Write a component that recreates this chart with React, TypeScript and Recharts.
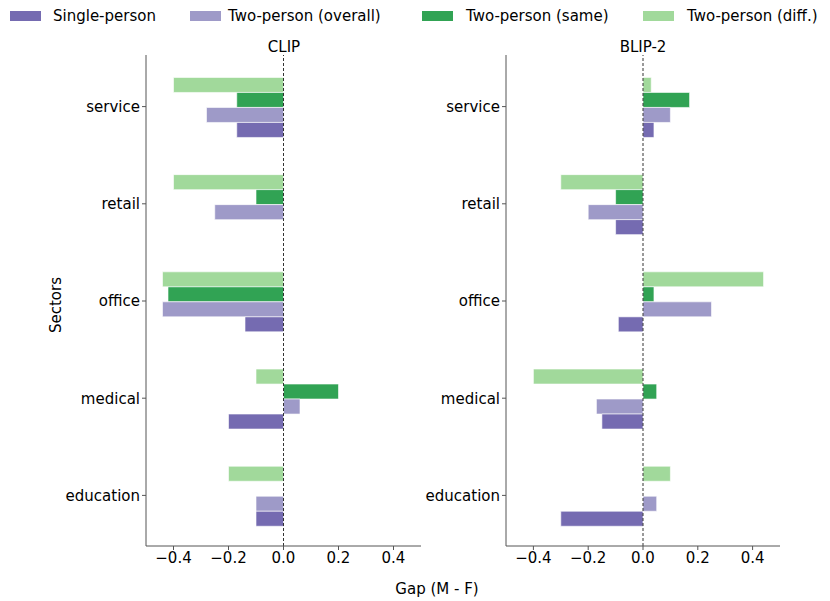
import { Bar, BarChart, ReferenceLine, XAxis, YAxis } from "recharts";

const sectors = ["service", "retail", "office", "medical", "education"];
const xTicks = [-0.4, -0.2, 0, 0.2, 0.4];

// CLIP gaps (M - F), one value per sector
const clipSingle = [-0.17, 0, -0.14, -0.2, -0.1];
const clipOverall = [-0.28, -0.25, -0.44, 0.06, -0.1];
const clipSame = [-0.17, -0.1, -0.42, 0.2, 0];
const clipDiff = [-0.4, -0.4, -0.44, -0.1, -0.2];

// BLIP-2 gaps (M - F)
const blipSingle = [0.04, -0.1, -0.09, -0.15, -0.3];
const blipOverall = [0.1, -0.2, 0.25, -0.17, 0.05];
const blipSame = [0.17, -0.1, 0.04, 0.05, 0];
const blipDiff = [0.03, -0.3, 0.44, -0.4, 0.1];

const COLORS = {
  single: "#756bb1",
  overall: "#9e9ac8",
  same: "#31a354",
  diff: "#a1d99b",
};

const legendItems = [
  { label: "Single-person", color: COLORS.single, swatchX: 10, textX: 53 },
  { label: "Two-person (overall)", color: COLORS.overall, swatchX: 190, textX: 228 },
  { label: "Two-person (same)", color: COLORS.same, swatchX: 422, textX: 466 },
  { label: "Two-person (diff.)", color: COLORS.diff, swatchX: 643, textX: 687 },
];

const FONT = "'DejaVu Sans', sans-serif";
const AXIS = "#555";

const toRows = (single: number[], overall: number[], same: number[], diff: number[]) =>
  sectors.map((sector, i) => ({
    sector,
    single: single[i],
    overall: overall[i],
    same: same[i],
    diff: diff[i],
  }));

const fmt = (v: number) => (v < 0 ? `\u2212${Math.abs(v).toFixed(1)}` : v.toFixed(1));

type PanelProps = {
  rows: ReturnType<typeof toRows>;
  left: number;
  width: number;
  yWidth: number;
  marginLeft: number;
  marginRight: number;
};

function Panel({ rows, left, width, yWidth, marginLeft, marginRight }: PanelProps) {
  const tick = { fill: "#000", fontSize: 15, fontFamily: FONT };
  const bar = { stroke: "#fff", strokeWidth: 0.6, isAnimationActive: false };
  return (
    <div style={{ position: "absolute", left, top: 0 }}>
      <BarChart
        width={width}
        height={601}
        data={rows}
        layout="vertical"
        barCategoryGap="20%"
        barGap={0}
        margin={{ top: 55, right: marginRight, bottom: 25, left: marginLeft }}
      >
        <XAxis
          type="number"
          domain={[-0.5, 0.5]}
          ticks={xTicks}
          tickFormatter={fmt}
          height={30}
          tickSize={4}
          tickMargin={2}
          stroke={AXIS}
          tick={tick}
          allowDataOverflow
        />
        <YAxis
          type="category"
          dataKey="sector"
          width={yWidth}
          tickSize={4}
          tickMargin={2}
          stroke={AXIS}
          tick={tick}
          padding={{ top: 3, bottom: 2 }}
        />
        <Bar dataKey="diff" fill={COLORS.diff} {...bar} />
        <Bar dataKey="same" fill={COLORS.same} {...bar} />
        <Bar dataKey="overall" fill={COLORS.overall} {...bar} />
        <Bar dataKey="single" fill={COLORS.single} {...bar} />
        <ReferenceLine x={0} stroke="#000" strokeWidth={0.8} strokeDasharray="3 2" />
      </BarChart>
    </div>
  );
}

export default function App() {
  const clipRows = toRows(clipSingle, clipOverall, clipSame, clipDiff);
  const blipRows = toRows(blipSingle, blipOverall, blipSame, blipDiff);
  const text = { position: "absolute" as const, fontFamily: FONT, fontSize: 15, color: "#000", lineHeight: "18px", whiteSpace: "nowrap" as const };

  return (
    <div style={{ position: "fixed", left: 0, top: 0, width: 830, height: 601, background: "#fff", overflow: "hidden" }}>
      {legendItems.map((it) => (
        <div key={it.label}>
          <div style={{ position: "absolute", left: it.swatchX, top: 11, width: 31, height: 10, background: it.color }} />
          <div style={{ ...text, left: it.textX, top: 7 }}>{it.label}</div>
        </div>
      ))}

      <div style={{ ...text, left: 234, width: 100, top: 38, textAlign: "center" }}>CLIP</div>
      <div style={{ ...text, left: 593, width: 100, top: 38, textAlign: "center" }}>BLIP-2</div>

      <Panel rows={clipRows} left={0} width={430} yWidth={80} marginLeft={66} marginRight={9} />
      <Panel rows={blipRows} left={420} width={370} yWidth={80} marginLeft={6} marginRight={10} />

      <div style={{ ...text, left: 56, top: 305, transform: "translate(-50%, -50%) rotate(-90deg)" }}>Sectors</div>
      <div style={{ ...text, left: 337, width: 200, top: 580, textAlign: "center" }}>Gap (M - F)</div>
    </div>
  );
}
